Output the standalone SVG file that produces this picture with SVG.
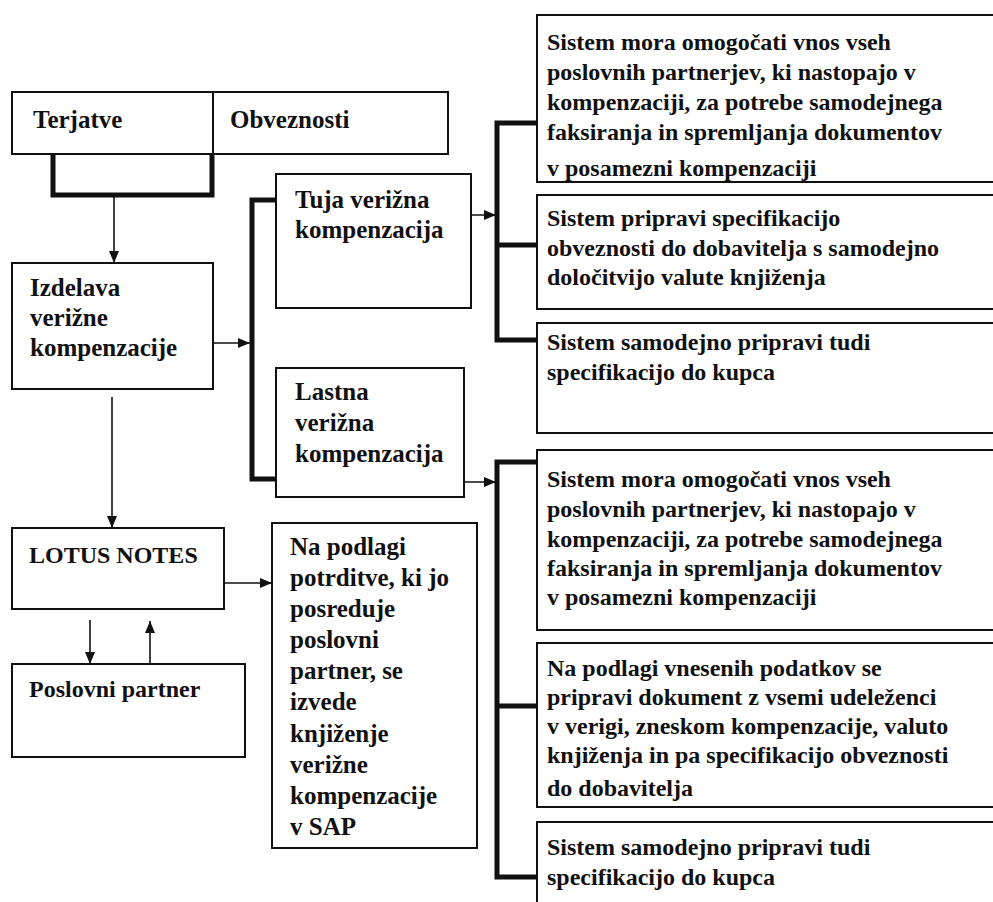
<svg xmlns="http://www.w3.org/2000/svg" width="993" height="902" viewBox="0 0 993 902">
  <style>
    .box { fill: #ffffff; stroke: #111111; stroke-width: 2; }
    .t { font-family: "Liberation Serif", "Times New Roman", serif; font-weight: bold; font-size: 24px; fill: #111111; }
    .tl { font-size: 25px; }
    .thick { fill: none; stroke: #111111; stroke-width: 5; stroke-linejoin: miter; stroke-linecap: square; }
    .thin { fill: none; stroke: #111111; stroke-width: 1.6; }
  </style>
  <defs>
    <marker id="arr" viewBox="0 0 12 10" refX="12" refY="5" markerWidth="12" markerHeight="10" markerUnits="userSpaceOnUse" orient="auto">
      <path d="M0,0 L12,5 L0,10 Z" fill="#111111"/>
    </marker>
    <clipPath id="cR1"><rect x="537" y="15" width="463" height="166"/></clipPath>
    <clipPath id="cR5"><rect x="537" y="643" width="463" height="163"/></clipPath>
  </defs>

  <rect width="993" height="902" fill="#ffffff"/>

  <!-- connectors -->
  <g id="connectors">
    <!-- bracket joining Terjatve and Obveznosti -->
    <path class="thick" d="M53,154 V195 H212 V154"/>
    <line class="thin" x1="114" y1="197" x2="114" y2="263" marker-end="url(#arr)"/>
    <!-- Izdelava to the two kinds of compensation -->
    <line class="thin" x1="208" y1="343" x2="250" y2="343" marker-end="url(#arr)"/>
    <path class="thick" d="M276,200 H252 V479 H283"/>
    <!-- Izdelava down to LOTUS NOTES -->
    <line class="thin" x1="112" y1="397" x2="112" y2="528" marker-end="url(#arr)"/>
    <!-- LOTUS NOTES to booking box -->
    <line class="thin" x1="205" y1="583" x2="272" y2="583" marker-end="url(#arr)"/>
    <!-- LOTUS NOTES and Poslovni partner -->
    <line class="thin" x1="90" y1="620" x2="90" y2="664" marker-end="url(#arr)"/>
    <line class="thin" x1="150" y1="664" x2="150" y2="621" marker-end="url(#arr)"/>
    <!-- Tuja to its three requirements -->
    <line class="thin" x1="455" y1="215" x2="496" y2="215" marker-end="url(#arr)"/>
    <path class="thick" d="M537,123 H497 V340 H537 M497,245 H537"/>
    <!-- Lastna to its three requirements -->
    <line class="thin" x1="455" y1="482" x2="496" y2="482" marker-end="url(#arr)"/>
    <path class="thick" d="M537,462 H497 V877 H537 M497,706 H537"/>
  </g>

  <g id="terjatve">
    <rect class="box" x="12" y="92" width="201" height="62"/>
    <text class="t tl" x="33" y="128">Terjatve</text>
  </g>
  <g id="obveznosti">
    <rect class="box" x="213" y="92" width="235" height="62"/>
    <text class="t tl" x="230" y="128">Obveznosti</text>
  </g>

  <g id="izdelava">
    <rect class="box" x="12" y="263" width="201" height="126"/>
    <text class="t tl" x="30" y="296">Izdelava</text>
    <text class="t tl" x="30" y="326">verižne</text>
    <text class="t tl" x="30" y="356">kompenzacije</text>
  </g>

  <g id="tuja">
    <rect class="box" x="276" y="174" width="195" height="134"/>
    <text class="t tl" x="295" y="208">Tuja verižna</text>
    <text class="t tl" x="295" y="238">kompenzacija</text>
  </g>

  <g id="lastna">
    <rect class="box" x="276" y="368" width="188" height="129"/>
    <text class="t tl" x="295" y="400">Lastna</text>
    <text class="t tl" x="295" y="431">verižna</text>
    <text class="t tl" x="295" y="462">kompenzacija</text>
  </g>

  <g id="lotus">
    <rect class="box" x="12" y="528" width="212" height="81"/>
    <text class="t" x="29" y="563">LOTUS NOTES</text>
  </g>

  <g id="partner">
    <rect class="box" x="12" y="664" width="233" height="93"/>
    <text class="t" x="29" y="697">Poslovni partner</text>
  </g>

  <g id="knjizenje">
    <rect class="box" x="272" y="523" width="205" height="325"/>
    <text class="t tl" x="290" y="555">Na podlagi</text>
    <text class="t tl" x="290" y="586">potrditve, ki jo</text>
    <text class="t tl" x="290" y="617">posreduje</text>
    <text class="t tl" x="290" y="648">poslovni</text>
    <text class="t tl" x="290" y="679">partner, se</text>
    <text class="t tl" x="290" y="710">izvede</text>
    <text class="t tl" x="290" y="742">knjiženje</text>
    <text class="t tl" x="290" y="773">verižne</text>
    <text class="t tl" x="290" y="804">kompenzacije</text>
    <text class="t tl" x="290" y="835">v SAP</text>
  </g>

  <g id="tuja-vnos">
    <rect class="box" x="537" y="15" width="470" height="167"/>
    <g clip-path="url(#cR1)">
      <text class="t" x="547" y="50">Sistem mora omogočati vnos vseh</text>
      <text class="t" x="547" y="80">poslovnih partnerjev, ki nastopajo v</text>
      <text class="t" x="547" y="110">kompenzaciji, za potrebe samodejnega</text>
      <text class="t" x="547" y="140">faksiranja in spremljanja dokumentov</text>
      <text class="t" x="547" y="176">v posamezni kompenzaciji</text>
    </g>
  </g>

  <g id="tuja-specifikacija">
    <rect class="box" x="537" y="195" width="470" height="114"/>
    <text class="t" x="547" y="226">Sistem pripravi specifikacijo</text>
    <text class="t" x="547" y="256">obveznosti do dobavitelja s samodejno</text>
    <text class="t" x="547" y="285">določitvijo valute knjiženja</text>
  </g>

  <g id="tuja-kupec">
    <rect class="box" x="537" y="323" width="470" height="110"/>
    <text class="t" x="547" y="350">Sistem samodejno pripravi tudi</text>
    <text class="t" x="547" y="380">specifikacijo do kupca</text>
  </g>

  <g id="lastna-vnos">
    <rect class="box" x="537" y="450" width="470" height="180"/>
    <text class="t" x="547" y="487">Sistem mora omogočati vnos vseh</text>
    <text class="t" x="547" y="517">poslovnih partnerjev, ki nastopajo v</text>
    <text class="t" x="547" y="547">kompenzaciji, za potrebe samodejnega</text>
    <text class="t" x="547" y="576">faksiranja in spremljanja dokumentov</text>
    <text class="t" x="547" y="605">v posamezni kompenzaciji</text>
  </g>

  <g id="lastna-dokument">
    <rect class="box" x="537" y="643" width="470" height="164"/>
    <g clip-path="url(#cR5)">
      <text class="t" x="547" y="676">Na podlagi vnesenih podatkov se</text>
      <text class="t" x="547" y="705">pripravi dokument z vsemi udeleženci</text>
      <text class="t" x="547" y="734">v verigi, zneskom kompenzacije, valuto</text>
      <text class="t" x="547" y="763">knjiženja in pa specifikacijo obveznosti</text>
      <text class="t" x="547" y="796">do dobavitelja</text>
    </g>
  </g>

  <g id="lastna-kupec">
    <rect class="box" x="537" y="822" width="470" height="100"/>
    <text class="t" x="547" y="855">Sistem samodejno pripravi tudi</text>
    <text class="t" x="547" y="885">specifikacijo do kupca</text>
  </g>
</svg>
